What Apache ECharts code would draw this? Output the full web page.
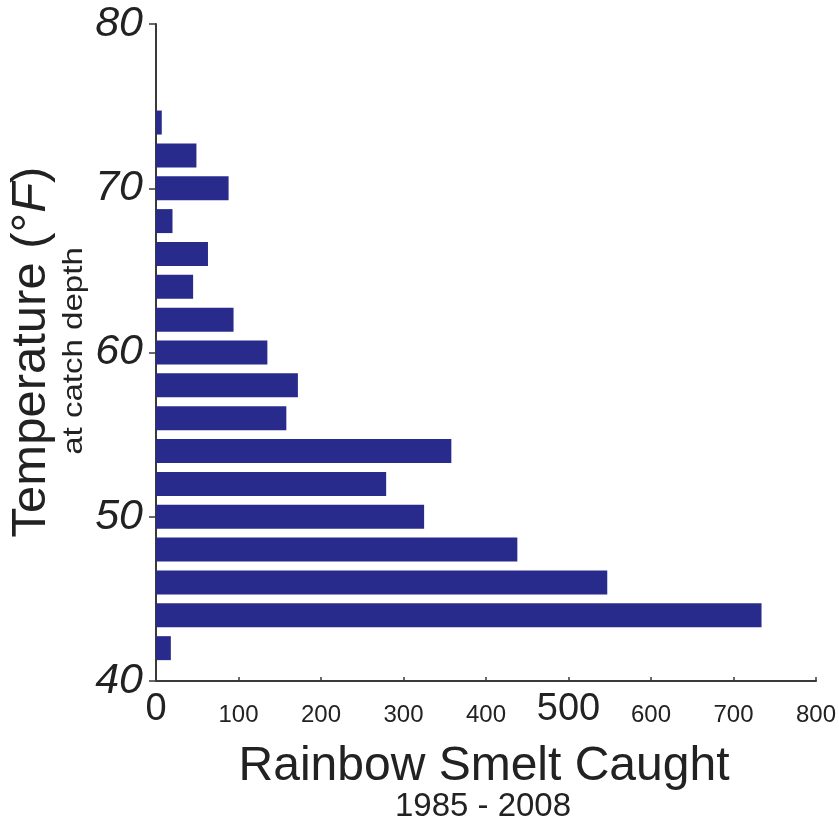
<!DOCTYPE html>
<html>
<head>
<meta charset="utf-8">
<script src="https://cdn.jsdelivr.net/npm/echarts@6/dist/echarts.min.js"></script>
<style>
html,body{margin:0;padding:0;background:#fff;}
#chart{width:839px;height:823px;}
</style>
</head>
<body>
<div id="chart"></div>
<script>
// Temperature bins (°F, bar centers) and catch counts
const temperatures = [42, 44, 46, 48, 50, 52, 54, 56, 58, 60, 62, 64, 66, 68, 70, 72, 74];
const smeltCaught = [18, 734, 547, 438, 325, 279, 358, 158, 172, 135, 94, 45, 63, 20, 88, 49, 7];
const xTicks = [0, 100, 200, 300, 400, 500, 600, 700, 800];
const yTicks = [40, 50, 60, 70, 80];

const FONT = '"Liberation Sans", Arial, Helvetica, sans-serif';
const BAR_COLOR = '#292b8c';
const HALF = 0.73;

const chart = echarts.init(document.getElementById('chart'), null, {renderer: 'canvas'});
const data = temperatures.map((t, i) => [smeltCaught[i], t]);

chart.setOption({
  backgroundColor: '#ffffff',
  animation: false,
  grid: {left: 156, right: 23, top: 24, bottom: 142, containLabel: false},
  xAxis: {
    type: 'value',
    min: xTicks[0], max: xTicks[xTicks.length - 1], interval: 100,
    axisLine: {show: true, lineStyle: {color: '#3a3a3a', width: 2}},
    axisTick: {show: true, inside: true, length: 4, lineStyle: {color: '#3a3a3a', width: 1.5}},
    splitLine: {show: false},
    axisLabel: {
      margin: 10,
      fontFamily: FONT,
      color: '#222',
      formatter: function (v) {
        return (v === 0 || v === 500) ? '{big|' + v + '}' : '{sm|' + v + '}';
      },
      rich: {
        big: {fontSize: 38, fontFamily: FONT, color: '#222'},
        sm: {fontSize: 24, fontFamily: FONT, color: '#222', padding: [12, 0, 0, 0]}
      }
    }
  },
  yAxis: {
    type: 'value',
    min: yTicks[0], max: yTicks[yTicks.length - 1], interval: 10,
    axisLine: {show: true, lineStyle: {color: '#3a3a3a', width: 2}},
    axisTick: {show: true, inside: false, length: 7, lineStyle: {color: '#3a3a3a', width: 1.5}},
    splitLine: {show: false},
    axisLabel: {
      margin: 13,
      fontSize: 43,
      fontStyle: 'italic',
      fontFamily: FONT,
      color: '#222'
    }
  },
  series: [{
    type: 'custom',
    data: data,
    encode: {x: 0, y: 1},
    renderItem: function (params, api) {
      const v = api.value(0), t = api.value(1);
      const p0 = api.coord([0, t + HALF]);
      const p1 = api.coord([v, t - HALF]);
      return {
        type: 'rect',
        shape: {x: p0[0], y: p0[1], width: p1[0] - p0[0], height: p1[1] - p0[1]},
        style: {fill: BAR_COLOR}
      };
    }
  }],
  graphic: [
    {
      type: 'text',
      x: 31, y: 352,
      rotation: Math.PI / 2,
      style: {
        text: '{a|Temperature (°}{b|F}{a|)}',
        align: 'center', verticalAlign: 'middle',
        rich: {
          a: {fontSize: 49, fontFamily: FONT, fill: '#222', color: '#222'},
          b: {fontSize: 49, fontFamily: FONT, fontStyle: 'italic', fill: '#222', color: '#222'}
        }
      }
    },
    {
      type: 'text',
      x: 74, y: 351,
      rotation: Math.PI / 2,
      scaleX: 1.18,
      style: {
        text: 'at catch depth',
        fontSize: 28, fontFamily: FONT, fill: '#222',
        align: 'center', verticalAlign: 'middle'
      }
    },
    {
      type: 'text',
      x: 484, y: 767,
      style: {
        text: 'Rainbow Smelt Caught',
        fontSize: 48, fontFamily: FONT, fill: '#222',
        align: 'center', verticalAlign: 'middle'
      }
    },
    {
      type: 'text',
      x: 483, y: 807,
      style: {
        text: '1985 - 2008',
        fontSize: 33, fontFamily: FONT, fill: '#222',
        align: 'center', verticalAlign: 'middle'
      }
    }
  ]
});
</script>
</body>
</html>
